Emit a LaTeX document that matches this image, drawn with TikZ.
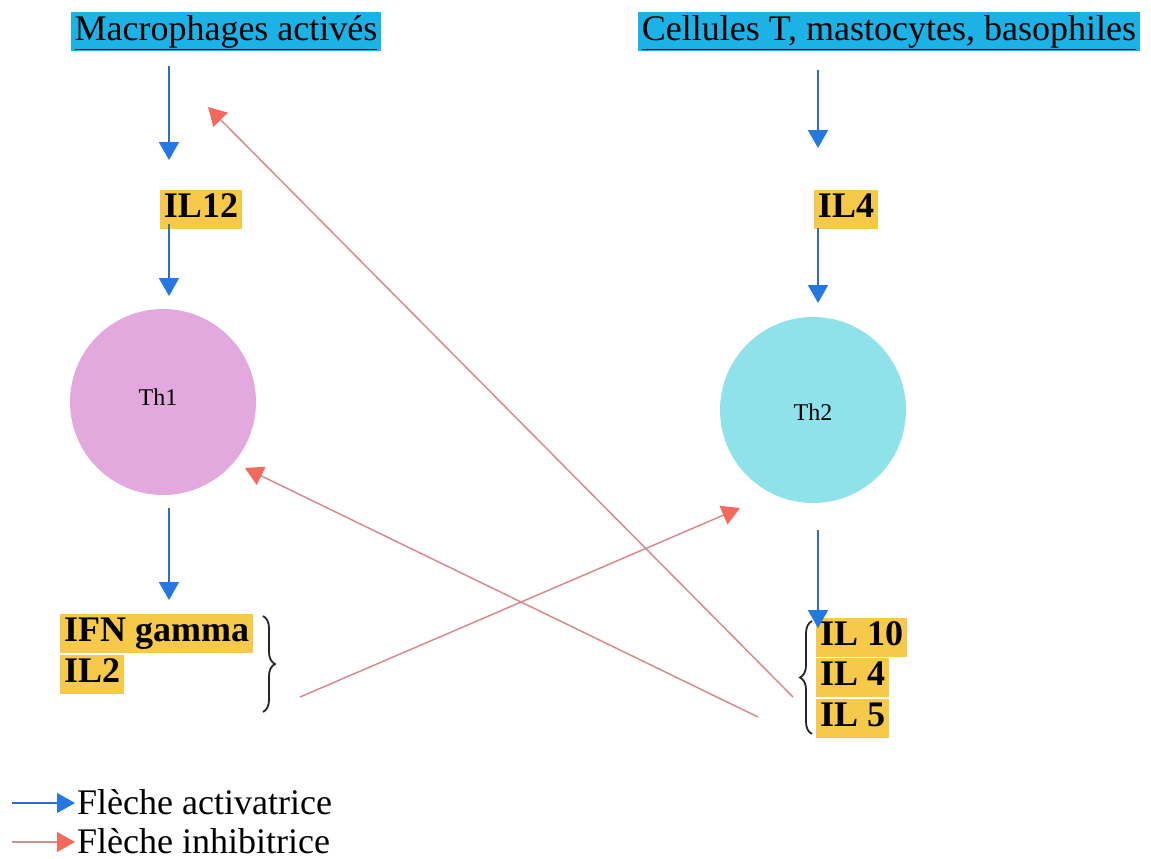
\documentclass[tikz,border=0pt]{standalone}
\usepackage{fontspec}
\setmainfont{Liberation Serif}
\usetikzlibrary{arrows.meta,decorations.pathreplacing}
\definecolor{actblue}{HTML}{2F6BCF}
\definecolor{actbluetip}{HTML}{2478E0}
\definecolor{inhred}{HTML}{D98A8E}
\definecolor{inhredtip}{HTML}{F26A5E}
\definecolor{hlblue}{HTML}{1DB2E6}
\definecolor{hlyellow}{HTML}{F7C94A}
\definecolor{thonefill}{HTML}{E3A9DE}
\definecolor{thtwofill}{HTML}{90E2EA}
\tikzset{
  big/.style={font=\fontsize{36}{40}\selectfont},
  header/.style={big, fill=hlblue, inner xsep=4pt, inner ysep=2pt, text height=26pt, text depth=9pt},
  ilbox/.style={big, font=\fontsize{36}{40}\selectfont\bfseries, fill=hlyellow, inner xsep=4pt, inner ysep=1pt, text height=27pt, text depth=10pt},
  cell/.style={circle, minimum size=186pt, inner sep=0pt, font=\fontsize{24}{28}\selectfont},
  actarrow/.style={draw=actblue, line width=1.8pt, -{Triangle[width=20pt,length=18pt,color=actbluetip]}},
  inharrow/.style={draw=inhred, line width=1.5pt, -{Triangle[width=20pt,length=18pt,color=inhredtip]}},
  bracedeco/.style={decorate, decoration={brace, amplitude=12pt}, line width=1.8pt, draw=black!85},
  legendtext/.style={big, anchor=base west, inner sep=0pt}
}
\begin{document}
\begin{tikzpicture}[x=1pt,y=-1pt]
\useasboundingbox (0,0) rectangle (1151,859);

% cells
\node[cell, fill=thonefill] (th1) at (163,402) {};
\node at (158,397) (th1lbl) [font=\fontsize{24}{28}\selectfont] {Th1};
\node[cell, fill=thtwofill] (th2) at (813,410) {};
\node at (813,412) (th2lbl) [font=\fontsize{24}{28}\selectfont] {Th2};

% headers
\node[header] (macro) at (226,32) {\underline{Macrophages activés}};
\node[header] (cellT) at (889,32) {\underline{Cellules T, mastocytes, basophiles}};

% yellow boxes
\node[ilbox] (il12) at (201,209) {IL12};
\node[ilbox] (il4top) at (846,209) {IL4};
\node[ilbox, anchor=west] (ifn) at (60,633) {IFN gamma};
\node[ilbox, anchor=west] (iltwo) at (60,674) {IL2};
\node[ilbox, anchor=west] (ilten) at (816,637) {IL 10};
\node[ilbox, anchor=west] (ilfour) at (816,677) {IL 4};
\node[ilbox, anchor=west] (ilfive) at (816,718) {IL 5};

% braces
\coordinate (bRtop) at (263,616);
\coordinate (bRbot) at (263,712);
\draw[bracedeco] (bRtop) -- (bRbot);
\coordinate (bLtop) at (812,621);
\coordinate (bLbot) at (812,734);
\draw[bracedeco] (bLbot) -- (bLtop);

% activating arrows
\coordinate (a1s) at (169,66);   \coordinate (a1e) at (169,160);
\coordinate (a2s) at (169,224);  \coordinate (a2e) at (169,296);
\coordinate (a3s) at (169,508);  \coordinate (a3e) at (169,600);
\coordinate (b1s) at (818,70);   \coordinate (b1e) at (818,148);
\coordinate (b2s) at (818,228);  \coordinate (b2e) at (818,303);
\coordinate (b3s) at (818,530);  \coordinate (b3e) at (818,628);
\draw[actarrow] (a1s) -- (a1e);
\draw[actarrow] (a2s) -- (a2e);
\draw[actarrow] (a3s) -- (a3e);
\draw[actarrow] (b1s) -- (b1e);
\draw[actarrow] (b2s) -- (b2e);
\draw[actarrow] (b3s) -- (b3e);

% inhibiting arrows
\coordinate (r1s) at (793,697);  \coordinate (r1e) at (208,107);
\coordinate (r2s) at (758,717);  \coordinate (r2e) at (245,468);
\coordinate (r3s) at (300,697);  \coordinate (r3e) at (740,508);
\draw[inharrow] (r1s) -- (r1e);
\draw[inharrow] (r2s) -- (r2e);
\draw[inharrow] (r3s) -- (r3e);

% legend
\coordinate (l1s) at (12,803);  \coordinate (l1e) at (75,803);
\coordinate (l2s) at (12,842);  \coordinate (l2e) at (75,842);
\draw[actarrow, line width=1.2pt] (l1s) -- (l1e);
\draw[inharrow, line width=1.2pt] (l2s) -- (l2e);
\node[legendtext] (leg1) at (77,814) {Flèche activatrice};
\node[legendtext] (leg2) at (77,853) {Flèche inhibitrice};
\end{tikzpicture}
\end{document}
